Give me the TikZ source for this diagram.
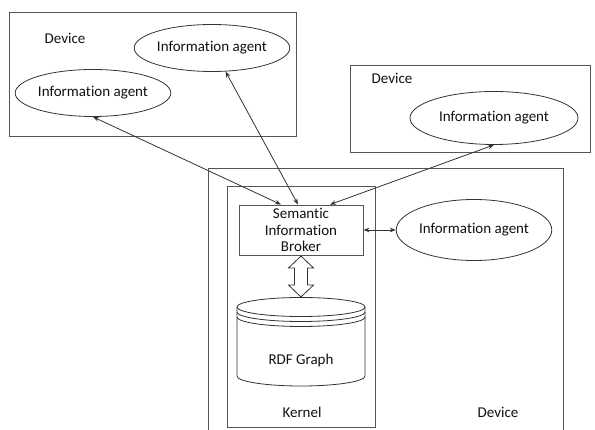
\documentclass[tikz,border=0pt]{standalone}
\usepackage{fontspec}
\setmainfont{Carlito}[Ligatures=NoCommon]
\usetikzlibrary{shapes.geometric,arrows.meta}
\definecolor{linec}{HTML}{333333}
\definecolor{boxc}{HTML}{555555}
\definecolor{txtc}{HTML}{111111}
\begin{document}
\begin{tikzpicture}[x=1pt,y=1pt,
  every node/.style={font=\fontsize{15}{16.5}\selectfont, text=txtc},
  frame/.style={draw=boxc, line width=0.9pt},
  agent/.style={ellipse, draw=linec, line width=0.8pt, inner sep=0pt},
  link/.style={draw=linec, line width=0.8pt, {Stealth[length=6pt,width=4.5pt]}-{Stealth[length=6pt,width=4.5pt]}},
  lbl/.style={inner sep=0pt}
]
\useasboundingbox (0,0) rectangle (595,-430);
% device frames
\draw[frame] (9,-12) rectangle (296,-136);
\draw[frame] (350,-65) rectangle (590,-152);
\draw[frame] (208,-430) -- (208,-168) -- (563,-168) -- (563,-430);
% kernel frame
\draw[frame] (227,-186) rectangle (375,-427);
% labels
\node[lbl] (dev1) at (65,-38) {Device};
\node[lbl] (dev2) at (392,-78) {Device};
\node[lbl] (dev3) at (498,-412) {Device};
\node[lbl] (kern) at (302,-412) {Kernel};
% agents
\node[agent, minimum width=145pt, minimum height=47pt] (ia1) at (212,-48) {Information agent};
\node[agent, minimum width=147pt, minimum height=47pt] (ia2) at (93,-93) {Information agent};
\node[agent, minimum width=168pt, minimum height=53pt] (ia3) at (494,-118) {Information agent};
\node[agent, minimum width=152pt, minimum height=61pt] (ia4) at (474,-230) {Information agent};
% broker
\node[draw=boxc, line width=0.9pt, minimum width=124pt, minimum height=50pt, inner sep=0pt, align=center] (sib) at (301,-230) {Semantic\\Information\\Broker};
% hollow double arrow
\draw[draw=linec, line width=0.8pt, fill=white]
  (301,-256) -- (313.5,-268) -- (307.5,-268) -- (307.5,-285) -- (313.5,-285) -- (301,-297)
  -- (288.5,-285) -- (294.5,-285) -- (294.5,-268) -- (288.5,-268) -- cycle;
% cylinder
\draw[draw=linec, line width=0.8pt] (237,-307) -- (237,-376)
  arc[start angle=180, end angle=360, x radius=64, y radius=10] -- (365,-307);
\draw[draw=linec, line width=0.8pt] (301,-307) ellipse [x radius=64, y radius=9.5];
\draw[draw=linec, line width=0.8pt] (237,-312) arc[start angle=180, end angle=360, x radius=64, y radius=9.5];
\draw[draw=linec, line width=0.8pt] (237,-317) arc[start angle=180, end angle=360, x radius=64, y radius=9.5];
\node[lbl] (rdf) at (301,-361) {RDF Graph};
% connectors
\draw[link] (ia2.south) -- ([xshift=-20pt]sib.north);
\draw[link] (ia1.-60) -- ([xshift=-3pt]sib.north);
\draw[link] (ia3.south) -- ([xshift=29pt]sib.north);
\draw[link] (sib.east) -- (ia4.west);
\end{tikzpicture}
\end{document}
